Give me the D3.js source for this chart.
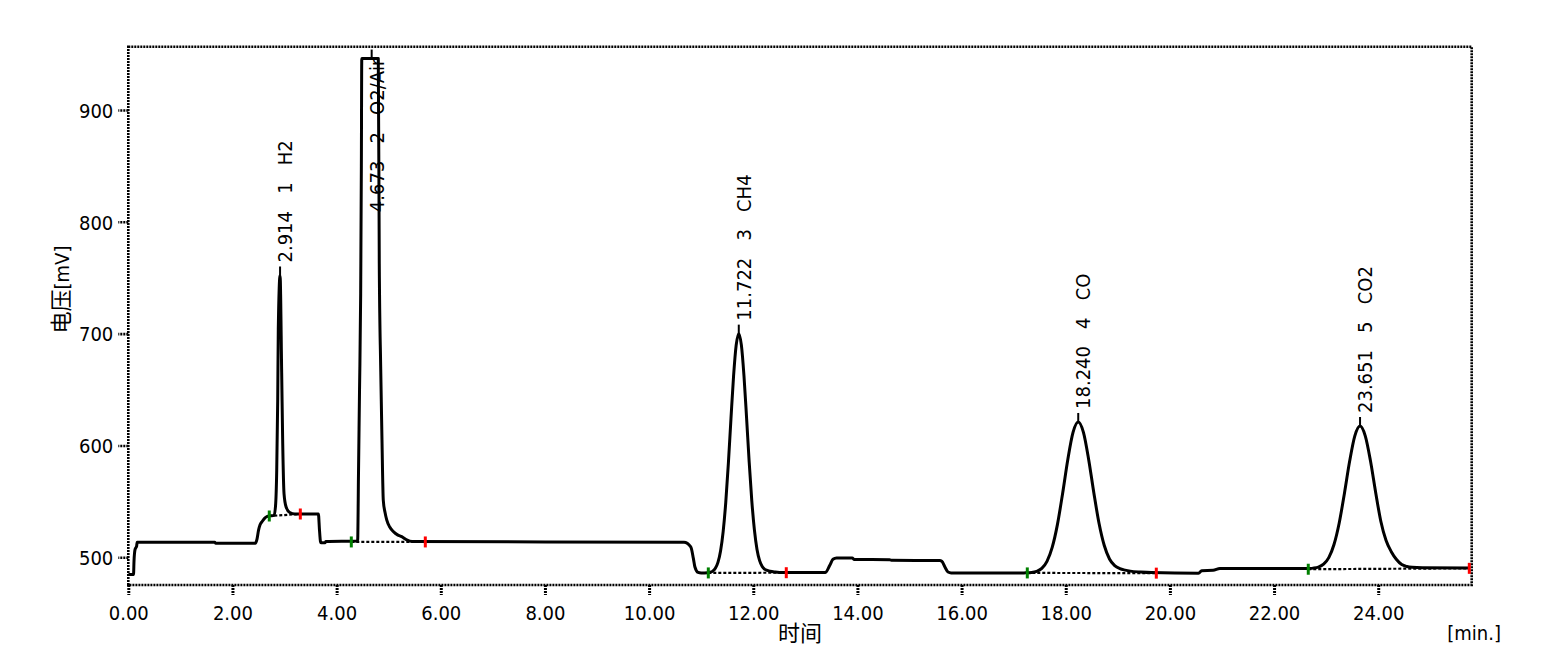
<!DOCTYPE html>
<html><head><meta charset="utf-8">
<script src="https://cdn.jsdelivr.net/npm/d3@7"></script>
<style>
body{margin:0;background:#fff}
svg{display:block}
text{font-family:"DejaVu Sans Condensed","DejaVu Sans",sans-serif;font-stretch:condensed;fill:#000}
</style>
</head><body>
<svg id="c" width="1567" height="664"></svg>
<script>
// ---- data ----
const traceTime = [0.00,0.10,0.11,0.13,0.16,0.17,1.66,1.68,2.44,2.47,2.50,2.53,2.57,2.62,2.67,2.72,2.80,2.83,2.85,2.869,2.88,2.914,2.945,2.965,2.99,3.03,3.10,3.20,3.65,3.67,3.69,3.70,3.78,3.79,4.40,
  4.405,4.42,4.44,4.462,4.475,4.483,4.80,4.819,4.846,4.871,4.896,4.93,4.962,5.02,5.088,5.17,5.25,5.346,5.45,10.67,10.80,10.85,10.88,10.94,11.00,
  11.122,11.172,11.222,11.272,11.322,11.372,11.422,11.472,11.522,11.572,11.622,11.672,11.722,11.772,11.822,11.872,11.922,11.972,12.022,12.072,12.122,12.172,12.222,12.272,12.322,12.422,12.572,
  13.38,13.47,13.53,13.60,13.90,13.94,14.62,14.65,15.58,15.62,15.68,15.74,15.80,17.20,
  17.24,17.34,17.44,17.54,17.64,17.74,17.84,17.94,18.04,18.14,18.24,18.34,18.44,18.54,18.64,18.74,18.84,18.94,19.04,19.14,19.24,19.44,19.64,
  20.55,20.61,20.83,20.96,22.60,
  22.651,22.751,22.851,22.951,23.051,23.151,23.251,23.351,23.451,23.551,23.651,23.751,23.851,23.951,24.051,24.151,24.251,24.351,24.451,24.551,24.651,24.851,25.75];
const traceMv = [484.5,484.5,497,507,510,513.4,513.4,512.5,512.5,516,524,529,532,535,536.5,537,537.5,548,578,641,704,752,665,602,557,545,540,538.7,538.7,525,514,513,513,514,514.5,
  516,575,650,736,850,946,946,763,670.5,605,551,540,533.4,527,523,520,518.4,515.5,514,513.4,509.2,499,491.3,486.5,486,
  486.2,486.6,487.6,490.1,495.4,505.6,522.9,549.1,584.0,624.0,662.1,689.7,700,689.7,662.1,624.5,585,550.5,524.5,507,497,491.8,489.2,488.2,487.5,486.8,486.3,
  486.3,492.8,498.2,499.4,499.4,498,497.8,497.3,497.0,496.4,491.3,486.8,486,486,
  486.1,486.4,487.4,490.1,496.4,508.8,529.2,557.1,587.5,611.7,621,611.7,587.5,557.5,530.2,510.5,498.5,492.5,489.8,488.5,487.6,486.8,486.3,
  485.8,488,488.3,489.9,489.9,
  490.0,490.3,491.2,493.8,499.7,511.4,530.7,557.1,585.8,608.6,617.4,608.6,586.3,558,532,515,505,498,493.5,491.7,491,490.6,490.3];

const peakRT   = [2.914, 4.673, 11.722, 18.240, 23.651];
const peakNo   = [1, 2, 3, 4, 5];
const peakName = ["H2", "O2/Air", "CH4", "CO", "CO2"];
const peakApex = [752, 946, 700, 621, 617.4];
const labelMv  = [752, 797, 700, 621, 617.4];

const startT  = [2.707, 4.282, 11.137, 17.262, 22.657];
const startMv = [536.9, 513.7, 486.0, 486.0, 489.3];
const endT    = [3.303, 5.703, 12.634, 19.739, 25.749];
const endMv   = [538.7, 513.7, 486.2, 485.8, 490.1];

const xTicks = [0,2,4,6,8,10,12,14,16,18,20,22,24];
const yTicks = [500,600,700,800,900];
const xTitle = "时间", xUnit = "[min.]";
const yTitle = "电压", yUnit = "[mV]";

// ---- drawing ----
const svg = d3.select("#c");
const L = 128.3, R = 1471.7, T = 46.7, B = 585;
const x = d3.scaleLinear().domain([0, 25.795]).range([L, R]);
const y = d3.scaleLinear().domain([475.2, 956.6]).range([B, T]);
const FS = 20;

const defs = svg.append("defs");
defs.append("clipPath").attr("id","plot").append("rect")
  .attr("x", L).attr("y", T).attr("width", R - L).attr("height", B - T);
defs.append("clipPath").attr("id","lab").append("rect")
  .attr("x", L).attr("y", 58.5).attr("width", R - L).attr("height", B - 58.5);

// frame
svg.append("rect").attr("x", L).attr("y", T).attr("width", R - L).attr("height", B - T)
  .attr("fill","none").attr("stroke","#000").attr("stroke-width",2.6).attr("stroke-dasharray","2,1");

// y axis
const yAxis = d3.axisLeft(y).tickValues(yTicks).tickSize(10).tickPadding(5).tickFormat(d3.format("d"));
const gy = svg.append("g").attr("transform",`translate(${L},0)`).call(yAxis);
gy.select(".domain").remove();
gy.selectAll(".tick line").attr("stroke","#000").attr("stroke-width",2.6).attr("stroke-dasharray","2,1");
gy.selectAll(".tick text").attr("font-size",FS).attr("font-family",null).attr("fill","#000").attr("dy","0.36em");

// x axis
const xAxis = d3.axisBottom(x).tickValues(xTicks).tickSize(10).tickPadding(9).tickFormat(d3.format(".2f"));
const gx = svg.append("g").attr("transform",`translate(0,${B})`).call(xAxis);
gx.select(".domain").remove();
gx.selectAll(".tick line").attr("stroke","#000").attr("stroke-width",3).attr("stroke-dasharray","2,1");
gx.selectAll(".tick text").attr("font-size",FS).attr("font-family",null).attr("fill","#000").attr("dy","0.78em");
svg.selectAll("g").attr("font-family",null);

// axis titles
svg.append("text").attr("x", (L + R) / 2).attr("y", 641).attr("text-anchor","middle")
  .style("font-family","'Noto Sans CJK SC'").attr("font-size",22).text(xTitle);
svg.append("text").attr("x", 1501).attr("y", 640).attr("text-anchor","end")
  .attr("font-size",FS).text(xUnit);
const yt = svg.append("text").attr("transform","translate(69,289.5) rotate(-90)").attr("text-anchor","middle");
yt.append("tspan").style("font-family","'Noto Sans CJK SC'").attr("font-size",22).text(yTitle);
yt.append("tspan").attr("font-size",FS).text(yUnit);

// baselines (dotted) between integration start and end
const gb = svg.append("g").attr("clip-path","url(#plot)");
peakRT.forEach((_, i) => {
  gb.append("line").attr("x1", x(startT[i])).attr("y1", y(startMv[i]))
    .attr("x2", x(endT[i])).attr("y2", y(endMv[i]))
    .attr("stroke","#000").attr("stroke-width",2.2).attr("stroke-dasharray","3,2");
});

// trace
const pts = traceTime.map((t, i) => [t, traceMv[i]]);
svg.append("path").attr("clip-path","url(#plot)").datum(pts)
  .attr("d", d3.line().x(d => x(d[0])).y(d => y(d[1])).curve(d3.curveMonotoneX))
  .attr("fill","none").attr("stroke","#000").attr("stroke-width",3).attr("stroke-linejoin","round");

// peak apex ticks
peakRT.forEach((rt, i) => {
  svg.append("line").attr("x1", x(rt)).attr("x2", x(rt))
    .attr("y1", y(peakApex[i])).attr("y2", Math.max(T, y(peakApex[i]) - 9))
    .attr("stroke","#000").attr("stroke-width",2);
});

// markers
peakRT.forEach((_, i) => {
  svg.append("line").attr("x1", x(startT[i])).attr("x2", x(startT[i]))
    .attr("y1", y(startMv[i]) - 5.5).attr("y2", y(startMv[i]) + 5.5)
    .attr("stroke","#008000").attr("stroke-width",3);
  svg.append("line").attr("x1", x(endT[i])).attr("x2", x(endT[i]))
    .attr("y1", y(endMv[i]) - 5.5).attr("y2", y(endMv[i]) + 5.5)
    .attr("stroke","#ff0000").attr("stroke-width",3);
});

// peak labels
const gl = svg.append("g").attr("clip-path","url(#lab)");
peakRT.forEach((rt, i) => {
  gl.append("text")
    .attr("transform", `translate(${x(rt) + 12},${y(labelMv[i]) - 13}) rotate(-90)`)
    .attr("font-size",FS).style("white-space","pre")
    .text(`${rt.toFixed(3)}   ${peakNo[i]}   ${peakName[i]}`);
});
</script>
</body></html>
